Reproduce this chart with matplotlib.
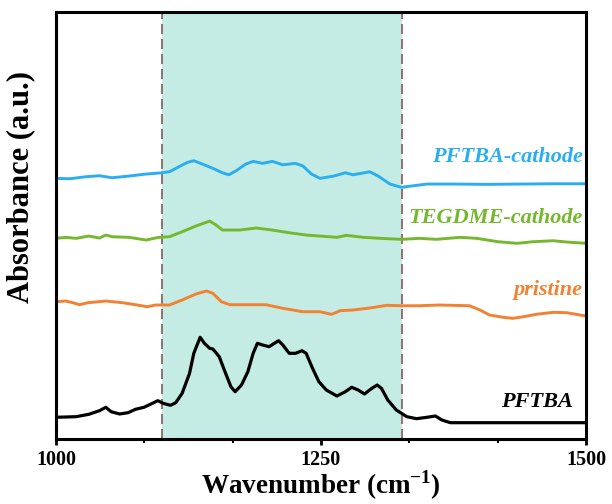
import numpy as np
import matplotlib.pyplot as plt

# spectra (wavenumber in cm-1, absorbance in a.u., already offset)
wn_pftba = [1000, 1019, 1031, 1041, 1047, 1052, 1060, 1068, 1075, 1083, 1091, 1096, 1101,
            1108, 1113, 1119, 1126, 1130, 1136, 1140, 1145, 1148, 1154, 1160, 1165, 1169,
            1175, 1181, 1186, 1190, 1195, 1201, 1206, 1210, 1214, 1220, 1226, 1232, 1236,
            1242, 1248, 1255, 1265, 1273, 1279, 1285, 1291, 1298, 1303, 1307, 1313, 1321,
            1331, 1340, 1350, 1358, 1364, 1372, 1406, 1450, 1500]
ab_pftba = [21.7, 22.3, 24.7, 28.3, 31.7, 27.3, 25.0, 26.3, 29.7, 31.7, 35.7, 38.3, 35.7,
            33.7, 36.3, 45.7, 65.7, 85.7, 101.7, 95.7, 90.7, 90.0, 82.3, 65.7, 52.3, 47.3,
            54.0, 67.3, 85.7, 95.7, 94.0, 92.3, 95.7, 98.3, 94.0, 85.7, 85.7, 88.3, 85.7,
            70.7, 57.3, 49.0, 43.0, 47.3, 51.7, 49.0, 45.0, 50.7, 54.0, 50.7, 39.0, 29.0,
            22.3, 20.3, 21.7, 23.0, 19.0, 16.3, 16.3, 16.3, 16.3]

wn_pristine = [1000, 1009, 1016, 1022, 1030, 1047, 1063, 1075, 1086, 1094, 1107, 1119, 1132,
               1142, 1148, 1156, 1164, 1179, 1198, 1214, 1233, 1249, 1260, 1268, 1280, 1296,
               1312, 1326, 1343, 1362, 1390, 1400, 1409, 1422, 1431, 1441, 1453, 1469, 1482,
               1500]
ab_pristine = [137.3, 138.0, 136.3, 134.3, 136.3, 138.0, 136.3, 134.3, 132.3, 134.0, 134.0,
               139.0, 145.0, 148.0, 145.7, 137.3, 134.3, 134.3, 134.3, 130.7, 127.3, 127.3,
               124.7, 128.3, 129.0, 131.0, 133.7, 133.3, 133.3, 134.0, 133.3, 129.0, 124.0,
               121.7, 120.7, 122.3, 124.7, 126.7, 126.3, 123.0]

wn_tegdme = [1000, 1009, 1019, 1031, 1041, 1047, 1053, 1069, 1085, 1097, 1107, 1119, 1132,
             1145, 1151, 1157, 1173, 1189, 1204, 1220, 1236, 1249, 1265, 1274, 1290, 1306,
             1326, 1343, 1359, 1381, 1397, 1417, 1435, 1450, 1469, 1482, 1500]
ab_tegdme = [200.7, 201.7, 200.7, 203.0, 201.0, 204.0, 202.3, 201.7, 199.0, 201.7, 202.3,
             207.3, 213.0, 218.0, 214.0, 209.0, 209.0, 211.0, 209.0, 206.3, 204.0, 203.0,
             201.7, 203.7, 201.7, 200.7, 199.7, 200.7, 199.7, 201.7, 200.7, 197.3, 195.7,
             197.3, 198.3, 197.0, 195.7]

wn_cathode = [1000, 1013, 1028, 1041, 1053, 1069, 1085, 1097, 1107, 1116, 1124, 1130, 1135,
              1148, 1157, 1163, 1170, 1179, 1186, 1195, 1204, 1214, 1226, 1233, 1241, 1249,
              1262, 1273, 1280, 1288, 1296, 1304, 1315, 1326, 1335, 1350, 1375, 1406, 1438,
              1469, 1500]
ab_cathode = [260.7, 260.3, 262.3, 263.3, 261.3, 263.0, 265.0, 266.0, 267.3, 272.3, 276.7,
              278.3, 276.3, 270.7, 266.3, 264.3, 268.3, 275.0, 277.7, 275.7, 277.7, 274.3,
              275.7, 273.0, 265.0, 260.7, 263.0, 266.3, 264.3, 265.7, 267.3, 263.0, 255.0,
              251.7, 253.0, 255.0, 255.0, 254.7, 255.0, 255.3, 255.3]

region = [1100, 1326]

plt.rcParams["font.family"] = ["Liberation Serif", "DejaVu Serif"]
plt.rcParams["font.weight"] = "bold"
plt.rcParams["mathtext.fontset"] = "custom"
plt.rcParams["mathtext.rm"] = "Liberation Serif:bold"
plt.rcParams["mathtext.bf"] = "Liberation Serif:bold"

fig = plt.figure(figsize=(6.12, 5.04), dpi=100)
ax = fig.add_axes([0.0915, 0.129, 0.866, 0.847])

# highlighted band with dashed borders
ax.axvspan(region[0], region[1], color="#c4ece4", lw=0, zorder=0)
for x in region:
    ax.axvline(x, color="#86595a", lw=1.2, ls=(0, (6, 3)), zorder=1)

ax.plot(wn_pftba, ab_pftba, color="black", lw=2.3)
ax.plot(wn_pristine, ab_pristine, color="#f28132", lw=2.1)
ax.plot(wn_tegdme, ab_tegdme, color="#75b82d", lw=2.1)
ax.plot(wn_cathode, ab_cathode, color="#2aaef0", lw=2.1)

lab = dict(fontsize=16, fontweight="bold", style="italic", ha="right", va="center")
ax.text(1497, 282, "PFTBA-cathode", color="#2aaef0", **lab)
ax.text(1497, 221, "TEGDME-cathode", color="#75b82d", **lab)
ax.text(1497, 149, "pristine", color="#f28132", **lab)
ax.text(1488, 37, "PFTBA", color="black", **lab)

ax.set_xlim(1000, 1500)
ax.set_ylim(0, 427)
ax.set_xticks([1000, 1250, 1500])
ax.set_xticks(np.arange(1000, 1501, 500 / 6), minor=True)
ax.set_yticks([])
ax.tick_params(axis="x", which="major", direction="out", length=4, width=2, labelsize=14.5, pad=4)
ax.tick_params(axis="x", which="minor", direction="out", length=3, width=1.5)
for s in ax.spines.values():
    s.set_linewidth(2.2)

ax.set_xlabel(r"Wavenumber (cm$^{\mathbf{-1}}$)", fontsize=19.5, fontweight="bold", labelpad=-1)
ax.set_ylabel("Absorbance (a.u.)", fontsize=22, fontweight="bold")
ax.yaxis.set_label_coords(-0.04, 0.59)

fig.savefig("out.png", dpi=100)
